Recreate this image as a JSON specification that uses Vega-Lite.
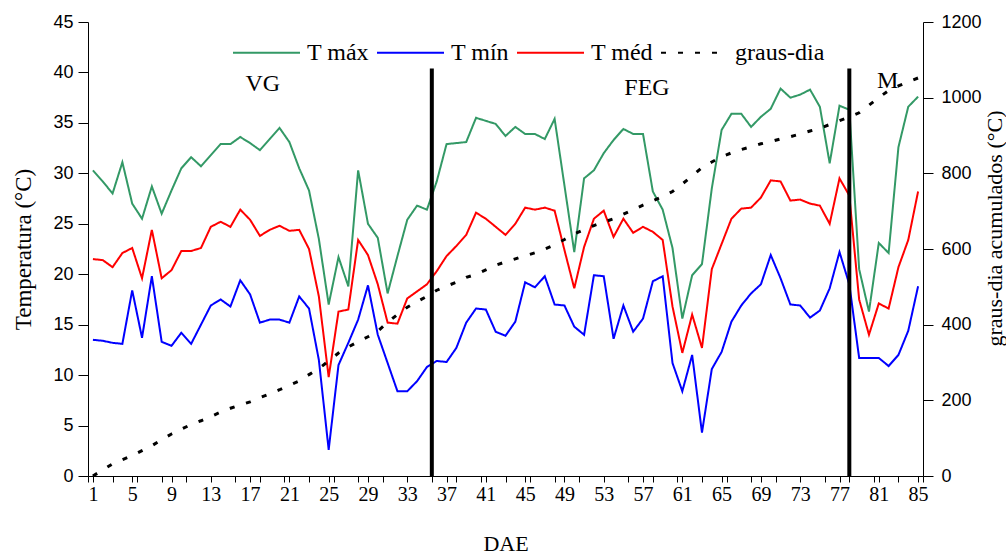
{
  "$schema": "https://vega.github.io/schema/vega-lite/v6.json",
  "width": 835,
  "height": 454,
  "autosize": {"type": "none"},
  "padding": {"left": 88, "top": 22, "right": 83, "bottom": 79},
  "background": "white",
  "title": {"text": "ebe  tipo  Vitte  de  Paris,  ciclo  2", "orient": "top", "anchor": "start", "frame": "group", "font": "Liberation Serif", "fontSize": 24, "fontWeight": "normal", "color": "#000", "baseline": "alphabetic", "offset": 5, "dx": -70},
  "config": {
    "view": {"stroke": null},
    "axis": {"grid": false, "domainColor": "#000", "tickColor": "#000", "labelColor": "#000", "titleColor": "#000", "titleFontWeight": "normal", "labelOverlap": false, "labelBound": false}
  },
  "datasets": {
    "clima": [
      {"dae":1,"max":30.3,"min":13.5,"med":21.5,"gd":0},
      {"dae":2,"max":29.2,"min":13.4,"med":21.4,"gd":16},
      {"dae":3,"max":28.0,"min":13.2,"med":20.7,"gd":32},
      {"dae":4,"max":31.1,"min":13.1,"med":22.1,"gd":43},
      {"dae":5,"max":27.0,"min":18.4,"med":22.6,"gd":54},
      {"dae":6,"max":25.5,"min":13.7,"med":19.6,"gd":67},
      {"dae":7,"max":28.7,"min":19.8,"med":24.4,"gd":80},
      {"dae":8,"max":26.0,"min":13.3,"med":19.6,"gd":96},
      {"dae":9,"max":28.3,"min":12.9,"med":20.4,"gd":111},
      {"dae":10,"max":30.5,"min":14.2,"med":22.3,"gd":124},
      {"dae":11,"max":31.6,"min":13.1,"med":22.3,"gd":136},
      {"dae":12,"max":30.7,"min":15.0,"med":22.6,"gd":146},
      {"dae":13,"max":31.8,"min":16.9,"med":24.7,"gd":157},
      {"dae":14,"max":32.9,"min":17.5,"med":25.2,"gd":169},
      {"dae":15,"max":32.9,"min":16.8,"med":24.7,"gd":179},
      {"dae":16,"max":33.6,"min":19.4,"med":26.4,"gd":188},
      {"dae":17,"max":33.0,"min":18.0,"med":25.4,"gd":196},
      {"dae":18,"max":32.3,"min":15.2,"med":23.8,"gd":207},
      {"dae":19,"max":33.4,"min":15.5,"med":24.4,"gd":217},
      {"dae":20,"max":34.5,"min":15.5,"med":24.8,"gd":228},
      {"dae":21,"max":33.1,"min":15.2,"med":24.3,"gd":240},
      {"dae":22,"max":30.5,"min":17.8,"med":24.4,"gd":251},
      {"dae":23,"max":28.3,"min":16.6,"med":22.5,"gd":268},
      {"dae":24,"max":23.5,"min":11.5,"med":17.8,"gd":284},
      {"dae":25,"max":17.0,"min":2.6,"med":9.8,"gd":304},
      {"dae":26,"max":21.7,"min":11.0,"med":16.3,"gd":325},
      {"dae":27,"max":18.8,"min":13.2,"med":16.5,"gd":341},
      {"dae":28,"max":30.3,"min":15.5,"med":23.4,"gd":355},
      {"dae":29,"max":25.0,"min":18.9,"med":21.9,"gd":368},
      {"dae":30,"max":23.6,"min":14.0,"med":19.0,"gd":383},
      {"dae":31,"max":18.1,"min":11.2,"med":15.2,"gd":406},
      {"dae":32,"max":21.8,"min":8.4,"med":15.1,"gd":427},
      {"dae":33,"max":25.4,"min":8.4,"med":17.6,"gd":446},
      {"dae":34,"max":26.8,"min":9.4,"med":18.3,"gd":461},
      {"dae":35,"max":26.4,"min":10.8,"med":19.0,"gd":475},
      {"dae":36,"max":29.2,"min":11.4,"med":20.3,"gd":491},
      {"dae":37,"max":32.9,"min":11.3,"med":21.8,"gd":502},
      {"dae":38,"max":33.0,"min":12.7,"med":22.8,"gd":512},
      {"dae":39,"max":33.1,"min":15.2,"med":23.9,"gd":525},
      {"dae":40,"max":35.5,"min":16.6,"med":26.1,"gd":533},
      {"dae":41,"max":35.2,"min":16.5,"med":25.5,"gd":545},
      {"dae":42,"max":34.9,"min":14.3,"med":24.7,"gd":557},
      {"dae":43,"max":33.7,"min":13.9,"med":23.9,"gd":566},
      {"dae":44,"max":34.6,"min":15.3,"med":25.0,"gd":574},
      {"dae":45,"max":33.9,"min":19.2,"med":26.6,"gd":582},
      {"dae":46,"max":33.9,"min":18.7,"med":26.4,"gd":590},
      {"dae":47,"max":33.4,"min":19.8,"med":26.6,"gd":600},
      {"dae":48,"max":35.4,"min":17.0,"med":26.3,"gd":611},
      {"dae":49,"max":28.8,"min":16.9,"med":22.4,"gd":625},
      {"dae":50,"max":22.2,"min":14.8,"med":18.6,"gd":640},
      {"dae":51,"max":29.5,"min":14.0,"med":22.7,"gd":651},
      {"dae":52,"max":30.3,"min":19.9,"med":25.5,"gd":662},
      {"dae":53,"max":32.0,"min":19.8,"med":26.3,"gd":671},
      {"dae":54,"max":33.3,"min":13.6,"med":23.7,"gd":680},
      {"dae":55,"max":34.4,"min":16.9,"med":25.5,"gd":692},
      {"dae":56,"max":33.9,"min":14.3,"med":24.1,"gd":704},
      {"dae":57,"max":33.9,"min":15.6,"med":24.7,"gd":716},
      {"dae":58,"max":28.2,"min":19.3,"med":24.2,"gd":727},
      {"dae":59,"max":26.4,"min":19.8,"med":23.4,"gd":739},
      {"dae":60,"max":22.6,"min":11.2,"med":16.8,"gd":752},
      {"dae":61,"max":15.6,"min":8.4,"med":12.2,"gd":772},
      {"dae":62,"max":19.9,"min":12.0,"med":16.0,"gd":793},
      {"dae":63,"max":21.0,"min":4.3,"med":12.7,"gd":815},
      {"dae":64,"max":28.5,"min":10.6,"med":20.5,"gd":830},
      {"dae":65,"max":34.3,"min":12.3,"med":23.0,"gd":844},
      {"dae":66,"max":35.9,"min":15.3,"med":25.5,"gd":854},
      {"dae":67,"max":35.9,"min":16.9,"med":26.5,"gd":863},
      {"dae":68,"max":34.6,"min":18.1,"med":26.6,"gd":870},
      {"dae":69,"max":35.6,"min":19.0,"med":27.6,"gd":878},
      {"dae":70,"max":36.4,"min":21.9,"med":29.3,"gd":884},
      {"dae":71,"max":38.4,"min":19.6,"med":29.2,"gd":891},
      {"dae":72,"max":37.5,"min":17.0,"med":27.3,"gd":897},
      {"dae":73,"max":37.8,"min":16.9,"med":27.4,"gd":904},
      {"dae":74,"max":38.3,"min":15.7,"med":27.0,"gd":912},
      {"dae":75,"max":36.6,"min":16.4,"med":26.8,"gd":919},
      {"dae":76,"max":31.0,"min":18.6,"med":25.0,"gd":929},
      {"dae":77,"max":36.7,"min":22.2,"med":29.5,"gd":939},
      {"dae":78,"max":36.3,"min":19.0,"med":27.8,"gd":949},
      {"dae":79,"max":20.5,"min":11.7,"med":17.5,"gd":960},
      {"dae":80,"max":16.3,"min":11.7,"med":14.0,"gd":980},
      {"dae":81,"max":23.1,"min":11.7,"med":17.1,"gd":1000},
      {"dae":82,"max":22.1,"min":10.9,"med":16.6,"gd":1019},
      {"dae":83,"max":32.6,"min":12.0,"med":20.7,"gd":1031},
      {"dae":84,"max":36.6,"min":14.4,"med":23.4,"gd":1042},
      {"dae":85,"max":37.6,"min":18.8,"med":28.2,"gd":1052}
    ],
    "fases": [{"dae": 35.5}, {"dae": 78}],
    "rotulos": [
      {"fase": "VG", "dae": 18.3, "t": 38.9},
      {"fase": "FEG", "dae": 57.4, "t": 38.5},
      {"fase": "M", "dae": 81.9, "t": 39.2}
    ]
  },
  "layer": [
    {
      "layer": [
        {
          "data": {"name": "clima"},
          "transform": [{"fold": ["max", "min", "med"], "as": ["serie", "t"]}],
          "mark": {"type": "line", "strokeWidth": 2},
          "encoding": {
            "x": {
              "field": "dae", "type": "quantitative",
              "scale": {"domain": [0.5, 85.5], "nice": false, "zero": false},
              "axis": {
                "values": [0.5,1,3,5,5.5,8,9,10.5,13,15.5,17,18,20.5,21,23,25,25.5,28,29,30.5,33,35.5,37,38,40.5,41,43,45,45.5,48,49,50.5,53,55.5,57,58,60.5,61,63,65,65.5,68,69,70.5,73,75.5,77,78,80.5,81,83,85,85.5],
                "tickCount": 500, "format": "d",
                "labelExpr": "(datum.value - 1) % 4 == 0 ? datum.label : ''",
                "tickSize": 6, "labelFont": "Liberation Serif", "labelFontSize": 20, "labelPadding": 2,
                "labelFlush": false, "labelOverlap": false, "labelBound": false,
                "encode": {"ticks": {"update": {"strokeOpacity": {"signal": "(datum.value * 2 - 1) % 5 == 0 ? 1 : 0"}}}},
                "title": "DAE", "titleFont": "Liberation Serif", "titleFontSize": 22, "titlePadding": 29
              }
            },
            "y": {
              "field": "t", "type": "quantitative",
              "scale": {"domain": [0, 45], "nice": false, "zero": false},
              "axis": {
                "orient": "left", "values": [0,5,10,15,20,25,30,35,40,45], "tickCount": 100, "format": "d",
                "tickSize": 10, "labelPadding": 5, "labelFont": "Liberation Sans", "labelFontSize": 18,
                "title": "Temperatura (°C)", "titleFont": "Liberation Serif", "titleFontSize": 23,
                "titleAngle": 270, "titleX": -65, "titleY": 227, "titleBaseline": "middle", "titleAlign": "center"
              }
            },
            "color": {
              "field": "serie", "type": "nominal",
              "scale": {"domain": ["max", "min", "med", "gd"], "range": ["#339966", "#0000ff", "#ff0000", "#000000"]},
              "legend": {
                "title": null, "orient": "none", "legendX": 144, "legendY": -4, "direction": "horizontal", "columns": 4,
                "symbolType": "stroke", "symbolSize": 4489, "symbolStrokeWidth": 2,
                "labelFont": "Liberation Serif", "labelFontSize": 24, "labelColor": "#000", "labelOffset": 6, "labelLimit": 300,
                "columnPadding": 4, "padding": 0,
                "labelExpr": "datum.label == 'max' ? 'T máx' : datum.label == 'min' ? 'T mín' : datum.label == 'med' ? 'T méd' : 'graus-dia'"
              }
            },
            "strokeDash": {
              "field": "serie", "type": "nominal",
              "scale": {"domain": ["max", "min", "med", "gd"], "range": [[1, 0], [1, 0], [1, 0], [5, 12]]},
              "legend": {
                "title": null, "orient": "none", "legendX": 144, "legendY": -4, "direction": "horizontal", "columns": 4,
                "symbolType": "stroke", "symbolSize": 4489, "symbolStrokeWidth": 2,
                "labelFont": "Liberation Serif", "labelFontSize": 24, "labelColor": "#000", "labelOffset": 6, "labelLimit": 300,
                "columnPadding": 4, "padding": 0,
                "labelExpr": "datum.label == 'max' ? 'T máx' : datum.label == 'min' ? 'T mín' : datum.label == 'med' ? 'T méd' : 'graus-dia'"
              }
            }
          }
        },
        {
          "data": {"name": "fases"},
          "mark": {"type": "rule", "strokeWidth": 4, "color": "#000"},
          "encoding": {
            "x": {"field": "dae", "type": "quantitative"},
            "y": {"datum": 0},
            "y2": {"datum": 40.4}
          }
        },
        {
          "data": {"name": "rotulos"},
          "mark": {"type": "text", "font": "Liberation Serif", "fontSize": 24, "color": "#000", "baseline": "middle", "align": "center"},
          "encoding": {
            "x": {"field": "dae", "type": "quantitative"},
            "y": {"field": "t", "type": "quantitative"},
            "text": {"field": "fase"}
          }
        }
      ]
    },
    {
      "data": {"name": "clima"},
      "transform": [{"fold": ["gd"], "as": ["serie", "v"]}],
      "mark": {"type": "line", "strokeWidth": 3, "strokeCap": "butt"},
      "encoding": {
        "x": {"field": "dae", "type": "quantitative"},
        "y": {
          "field": "v", "type": "quantitative",
          "scale": {"domain": [0, 1200], "nice": false, "zero": false},
          "axis": {
            "orient": "right", "values": [0,200,400,600,800,1000,1200], "format": "d", "tickCount": 100,
            "tickSize": 10, "labelPadding": 8, "labelFont": "Liberation Sans", "labelFontSize": 18,
            "title": "graus-dia acumulados (°C)", "titleFont": "Liberation Serif", "titleFontSize": 22,
            "titleAngle": 270, "titleX": 71, "titleY": 206, "titleBaseline": "middle", "titleAlign": "center"
          }
        },
        "color": {
          "field": "serie", "type": "nominal",
          "legend": {
            "title": null, "orient": "none", "legendX": 144, "legendY": -4, "direction": "horizontal", "columns": 4,
            "symbolType": "stroke", "symbolSize": 4489, "symbolStrokeWidth": 2,
            "labelFont": "Liberation Serif", "labelFontSize": 24, "labelColor": "#000", "labelOffset": 6, "labelLimit": 300,
            "columnPadding": 4, "padding": 0,
            "labelExpr": "datum.label == 'max' ? 'T máx' : datum.label == 'min' ? 'T mín' : datum.label == 'med' ? 'T méd' : 'graus-dia'"
          }
        },
        "strokeDash": {
          "field": "serie", "type": "nominal",
          "legend": {
            "title": null, "orient": "none", "legendX": 144, "legendY": -4, "direction": "horizontal", "columns": 4,
            "symbolType": "stroke", "symbolSize": 4489, "symbolStrokeWidth": 2,
            "labelFont": "Liberation Serif", "labelFontSize": 24, "labelColor": "#000", "labelOffset": 6, "labelLimit": 300,
            "columnPadding": 4, "padding": 0,
            "labelExpr": "datum.label == 'max' ? 'T máx' : datum.label == 'min' ? 'T mín' : datum.label == 'med' ? 'T méd' : 'graus-dia'"
          }
        }
      }
    }
  ],
  "resolve": {"scale": {"y": "independent"}}
}
